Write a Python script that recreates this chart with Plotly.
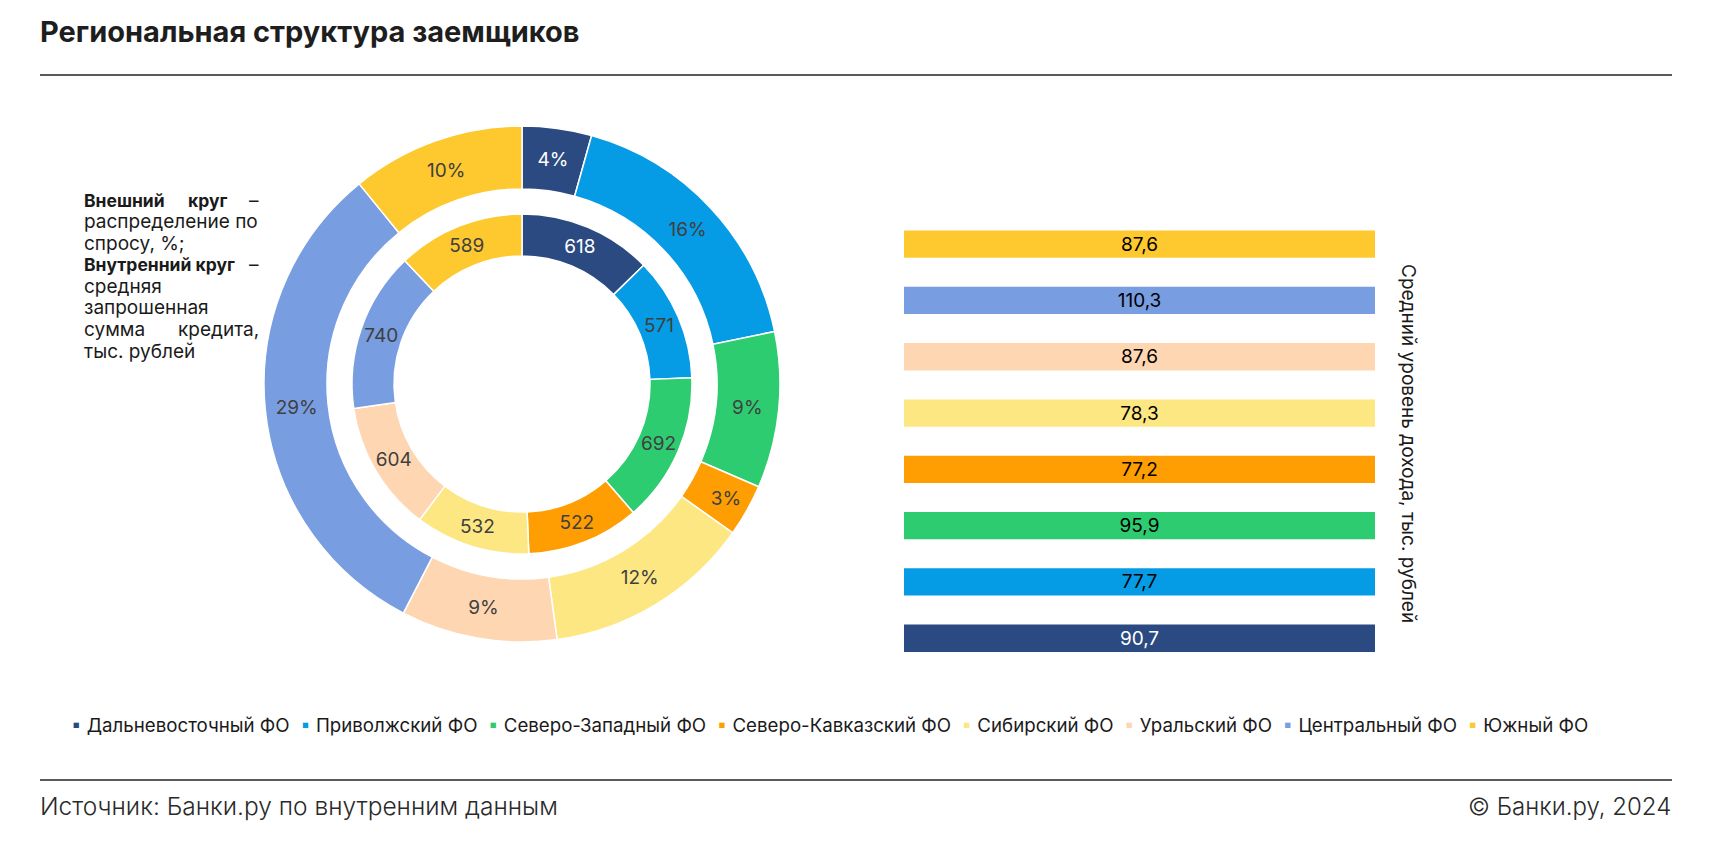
import plotly.graph_objects as go

W, H = 1712, 850

# ---------------- data ----------------
regions = ["Дальневосточный ФО", "Приволжский ФО", "Северо-Западный ФО", "Северо-Кавказский ФО",
           "Сибирский ФО", "Уральский ФО", "Центральный ФО", "Южный ФО"]
demand_share = [4, 16, 9, 3, 12, 9, 29, 10]            # outer ring, %
avg_loan = [618, 571, 692, 522, 532, 604, 740, 589]     # inner ring, тыс. руб.
avg_income = [90.7, 77.7, 95.9, 77.2, 78.3, 87.6, 110.3, 87.6]  # bars, тыс. руб.
colors = ["#2b4a82", "#069be5", "#2ecc71", "#fe9e02", "#fce783", "#fed6b2", "#789de1", "#fec82f"]

FONT = "Inter, Roboto, 'DejaVu Sans', sans-serif"
TXT = "#404040"


def fx(x):
    return x / W


def fy(y):
    return 1 - y / H


def dom(cx, cy, r):
    return dict(x=[fx(cx - r), fx(cx + r)], y=[fy(cy + r), fy(cy - r)])


cx, cy = 522, 384
R_out, r_out = 258, 195
R_in, r_in = 170, 128

lbl_colors = ["white"] + [TXT] * (len(regions) - 1)

fig = go.Figure()

fig.add_trace(go.Pie(
    labels=regions, values=demand_share, text=[f"{v}%" for v in demand_share],
    textinfo="text", hole=r_out / R_out, sort=False, direction="clockwise", rotation=0,
    marker=dict(colors=colors, line=dict(color="white", width=1.5)),
    textposition="inside", insidetextorientation="horizontal",
    insidetextfont=dict(family=FONT, size=19, color=lbl_colors),
    domain=dom(cx, cy, R_out), showlegend=False, hoverinfo="label+text",
))

fig.add_trace(go.Pie(
    labels=regions, values=avg_loan, text=[str(v) for v in avg_loan],
    textinfo="text", hole=r_in / R_in, sort=False, direction="clockwise", rotation=0,
    marker=dict(colors=colors, line=dict(color="white", width=1.5)),
    textposition="inside", insidetextorientation="horizontal",
    insidetextfont=dict(family=FONT, size=19, color=lbl_colors),
    domain=dom(cx, cy, R_in), showlegend=False, hoverinfo="label+text",
))

fig.add_trace(go.Bar(
    y=regions, x=avg_income, orientation="h",
    marker=dict(color=colors, line=dict(width=0)),
    text=[f"{v:.1f}".replace(".", ",") for v in avg_income],
    textposition="inside", insidetextanchor="middle", textangle=0,
    insidetextfont=dict(family=FONT, size=19, color=["white"] + ["black"] * (len(regions) - 1)),
    showlegend=False, hoverinfo="y+text",
))

# ---------------- annotations ----------------
ann = []
ann.append(dict(x=fx(38), y=fy(31), xref="paper", yref="paper", xanchor="left", yanchor="middle",
                text="<b>Региональная структура заемщиков</b>", showarrow=False,
                font=dict(family=FONT, size=29, color="#1e1e1e", weight=800)))

# left explanatory text (justified lines split)
lx0, lx1 = 82, 261
ly0, dly = 200, 21.6
left_lines = [
    [("<b>Внешний</b>", "l"), ("<b>круг</b>", "c"), ("–", "r")],
    [("распределение по", "l")],
    [("спросу, %;", "l")],
    [("<b>Внутренний круг</b>", "l"), ("–", "r")],
    [("средняя", "l")],
    [("запрошенная", "l")],
    [("сумма", "l"), ("кредита,", "r")],
    [("тыс. рублей", "l")],
]
for i, parts in enumerate(left_lines):
    yy = ly0 + i * dly
    for t, a in parts:
        if a == "l":
            xx, xa = lx0, "left"
        elif a == "r":
            xx, xa = lx1, "right"
        else:
            xx, xa = 207, "center"
        size = 17.5 if t.startswith("<b>") else 19
        ann.append(dict(x=fx(xx), y=fy(yy), xref="paper", yref="paper", xanchor=xa, yanchor="middle",
                        text=t, showarrow=False, font=dict(family=FONT, size=size, color="#1a1a1a")))

# bar axis title (reads top to bottom)
ann.append(dict(x=fx(1408), y=fy(443), xref="paper", yref="paper", xanchor="center", yanchor="middle",
                text="Средний уровень дохода, тыс. рублей", textangle=90, showarrow=False,
                font=dict(family=FONT, size=19, color="#1a1a1a")))

# legend
items = []
for name, c in zip(regions, colors):
    items.append(f"<span style='color:{c}'>▪</span> {name}")
ann.append(dict(x=fx(829), y=fy(725), xref="paper", yref="paper", xanchor="center", yanchor="middle",
                text="  ".join(items), showarrow=False,
                font=dict(family=FONT, size=18.7, color="#1a1a1a")))

# footer
ann.append(dict(x=fx(38), y=fy(806), xref="paper", yref="paper", xanchor="left", yanchor="middle",
                text="Источник: Банки.ру по внутренним данным", showarrow=False,
                font=dict(family=FONT, size=24.5, color="#2a2a2a", weight=300)))
ann.append(dict(x=fx(1673), y=fy(806), xref="paper", yref="paper", xanchor="right", yanchor="middle",
                text="© Банки.ру, 2024", showarrow=False,
                font=dict(family=FONT, size=24, color="#2a2a2a", weight=300)))

shapes = [
    dict(type="line", xref="paper", yref="paper", x0=fx(40), x1=fx(1672), y0=fy(75), y1=fy(75),
         line=dict(color="#222222", width=1.5)),
    dict(type="line", xref="paper", yref="paper", x0=fx(40), x1=fx(1672), y0=fy(780), y1=fy(780),
         line=dict(color="#222222", width=1.5)),
]

fig.update_layout(
    width=W, height=H, margin=dict(l=0, r=0, t=0, b=0),
    paper_bgcolor="white", plot_bgcolor="white",
    font=dict(family=FONT),
    barmode="stack", barnorm="percent", bargap=0.515,
    uniformtext=dict(minsize=19, mode="show"),
    xaxis=dict(domain=[fx(904), fx(1375)], range=[0, 100], visible=False, fixedrange=True),
    yaxis=dict(domain=[fy(666.4), fy(216)], visible=False, fixedrange=True),
    annotations=ann, shapes=shapes,
)

fig.write_html("out.html", post_script="document.body.style.margin='0';",
               config={"displayModeBar": False})
